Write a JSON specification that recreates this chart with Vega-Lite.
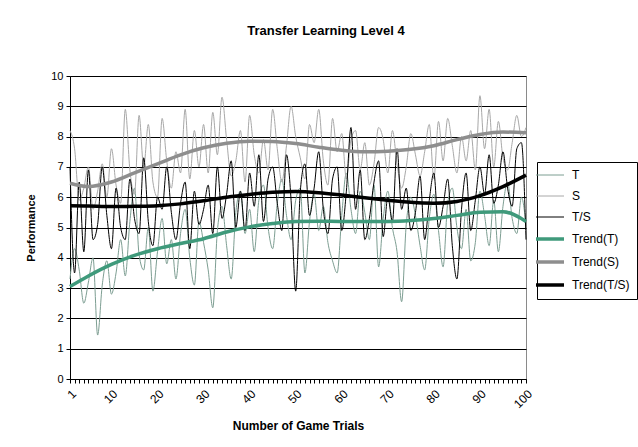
{
  "$schema": "https://vega.github.io/schema/vega-lite/v6.json",
  "autosize": {"type": "none"},
  "padding": {"left": 70, "top": 76, "right": 112, "bottom": 68},
  "width": 456,
  "height": 303,
  "background": "white",
  "title": {"text": "Transfer Learning Level 4", "font": "Liberation Sans", "fontSize": 13, "fontWeight": "bold", "color": "#000", "anchor": "middle", "dx": 28, "offset": 32},
  "config": {
    "view": {"stroke": "#8a8a8a", "strokeWidth": 1},
    "axis": {"labelFont": "Liberation Sans", "titleFont": "Liberation Sans", "labelColor": "#000", "titleColor": "#000", "domainColor": "#000", "tickColor": "#000"},
    "legend": {"labelFont": "Liberation Sans"}
  },
  "datasets": {
    "raw": [
      {"trial":1,"T":3.3,"S":8.2,"TS":7.0},{"trial":2,"T":4.3,"S":7.6,"TS":3.5},{"trial":3,"T":3.6,"S":5.9,"TS":6.5},{"trial":4,"T":2.5,"S":6.3,"TS":4.2},{"trial":5,"T":3.2,"S":7.0,"TS":6.9},
      {"trial":6,"T":4.0,"S":5.6,"TS":4.6},{"trial":7,"T":1.45,"S":6.2,"TS":5.1},{"trial":8,"T":3.1,"S":7.1,"TS":7.0},{"trial":9,"T":3.9,"S":6.0,"TS":5.4},{"trial":10,"T":2.8,"S":7.6,"TS":4.3},
      {"trial":11,"T":3.5,"S":6.4,"TS":6.3},{"trial":12,"T":4.6,"S":5.8,"TS":5.0},{"trial":13,"T":3.4,"S":8.9,"TS":4.6},{"trial":14,"T":5.2,"S":6.9,"TS":6.6},{"trial":15,"T":6.3,"S":6.1,"TS":5.3},
      {"trial":16,"T":4.1,"S":8.7,"TS":4.8},{"trial":17,"T":3.6,"S":7.0,"TS":7.3},{"trial":18,"T":5.0,"S":8.4,"TS":5.2},{"trial":19,"T":2.9,"S":6.5,"TS":4.4},{"trial":20,"T":4.2,"S":6.0,"TS":6.0},
      {"trial":21,"T":5.3,"S":8.6,"TS":5.6},{"trial":22,"T":3.8,"S":7.2,"TS":7.0},{"trial":23,"T":4.6,"S":6.3,"TS":5.5},{"trial":24,"T":3.3,"S":7.5,"TS":4.6},{"trial":25,"T":4.8,"S":6.8,"TS":5.8},
      {"trial":26,"T":5.6,"S":8.9,"TS":6.5},{"trial":27,"T":4.0,"S":6.6,"TS":4.3},{"trial":28,"T":3.1,"S":8.2,"TS":6.2},{"trial":29,"T":5.2,"S":7.0,"TS":5.1},{"trial":30,"T":4.5,"S":8.4,"TS":5.6},
      {"trial":31,"T":3.6,"S":6.8,"TS":6.4},{"trial":32,"T":2.35,"S":8.8,"TS":4.8},{"trial":33,"T":4.9,"S":7.4,"TS":7.0},{"trial":34,"T":5.7,"S":9.3,"TS":5.3},{"trial":35,"T":4.4,"S":7.9,"TS":6.1},
      {"trial":36,"T":3.3,"S":6.7,"TS":7.2},{"trial":37,"T":5.5,"S":7.2,"TS":5.0},{"trial":38,"T":6.2,"S":8.2,"TS":6.2},{"trial":39,"T":4.8,"S":6.5,"TS":4.9},{"trial":40,"T":5.6,"S":8.7,"TS":6.8},
      {"trial":41,"T":4.2,"S":7.4,"TS":5.7},{"trial":42,"T":5.9,"S":6.8,"TS":7.4},{"trial":43,"T":6.4,"S":7.9,"TS":5.2},{"trial":44,"T":5.0,"S":6.9,"TS":6.6},{"trial":45,"T":4.3,"S":8.9,"TS":7.0},
      {"trial":46,"T":5.8,"S":7.6,"TS":5.8},{"trial":47,"T":6.6,"S":6.5,"TS":4.9},{"trial":48,"T":5.4,"S":7.7,"TS":7.4},{"trial":49,"T":4.6,"S":9.0,"TS":5.9},{"trial":50,"T":5.9,"S":8.0,"TS":2.9},
      {"trial":51,"T":6.3,"S":7.3,"TS":6.2},{"trial":52,"T":3.5,"S":6.6,"TS":7.1},{"trial":53,"T":5.2,"S":8.4,"TS":5.4},{"trial":54,"T":6.1,"S":7.8,"TS":6.3},{"trial":55,"T":4.9,"S":8.9,"TS":7.5},
      {"trial":56,"T":5.7,"S":7.2,"TS":5.6},{"trial":57,"T":4.5,"S":6.4,"TS":4.8},{"trial":58,"T":3.9,"S":8.6,"TS":6.6},{"trial":59,"T":3.5,"S":7.5,"TS":7.0},{"trial":60,"T":5.4,"S":8.1,"TS":4.9},
      {"trial":61,"T":6.8,"S":6.6,"TS":6.2},{"trial":62,"T":5.6,"S":7.9,"TS":8.3},{"trial":63,"T":4.8,"S":8.2,"TS":5.6},{"trial":64,"T":6.2,"S":6.9,"TS":6.9},{"trial":65,"T":5.5,"S":7.8,"TS":4.6},
      {"trial":66,"T":4.6,"S":6.4,"TS":5.3},{"trial":67,"T":6.4,"S":7.1,"TS":6.5},{"trial":68,"T":3.7,"S":8.3,"TS":7.2},{"trial":69,"T":5.3,"S":7.9,"TS":4.7},{"trial":70,"T":6.2,"S":6.8,"TS":6.0},
      {"trial":71,"T":5.0,"S":8.2,"TS":5.2},{"trial":72,"T":4.2,"S":7.1,"TS":7.6},{"trial":73,"T":2.55,"S":6.3,"TS":5.6},{"trial":74,"T":5.1,"S":7.0,"TS":6.3},{"trial":75,"T":6.0,"S":8.1,"TS":4.9},
      {"trial":76,"T":5.4,"S":7.4,"TS":5.5},{"trial":77,"T":4.4,"S":6.7,"TS":6.7},{"trial":78,"T":3.6,"S":7.5,"TS":4.6},{"trial":79,"T":5.3,"S":8.4,"TS":5.9},{"trial":80,"T":6.1,"S":6.6,"TS":6.8},
      {"trial":81,"T":4.9,"S":8.5,"TS":5.0},{"trial":82,"T":3.7,"S":7.2,"TS":5.7},{"trial":83,"T":5.8,"S":8.6,"TS":6.6},{"trial":84,"T":6.3,"S":7.7,"TS":4.4},{"trial":85,"T":5.0,"S":6.8,"TS":3.3},
      {"trial":86,"T":4.3,"S":8.0,"TS":5.6},{"trial":87,"T":5.6,"S":7.2,"TS":6.8},{"trial":88,"T":3.9,"S":8.2,"TS":4.9},{"trial":89,"T":4.5,"S":6.9,"TS":5.9},{"trial":90,"T":6.2,"S":9.35,"TS":7.0},
      {"trial":91,"T":5.4,"S":7.6,"TS":6.1},{"trial":92,"T":4.4,"S":8.9,"TS":7.4},{"trial":93,"T":5.9,"S":7.0,"TS":5.8},{"trial":94,"T":4.2,"S":8.5,"TS":6.4},{"trial":95,"T":5.7,"S":7.3,"TS":7.5},
      {"trial":96,"T":6.5,"S":6.9,"TS":6.3},{"trial":97,"T":5.3,"S":7.8,"TS":5.7},{"trial":98,"T":4.8,"S":8.7,"TS":7.6},{"trial":99,"T":6.0,"S":8.0,"TS":7.8},{"trial":100,"T":5.1,"S":8.3,"TS":4.6}
    ],
    "trend": [
      {"trial":1,"series":"Trend(T)","value":3.05},{"trial":5,"series":"Trend(T)","value":3.4},{"trial":10,"series":"Trend(T)","value":3.78},{"trial":15,"series":"Trend(T)","value":4.08},{"trial":20,"series":"Trend(T)","value":4.3},{"trial":25,"series":"Trend(T)","value":4.47},{"trial":30,"series":"Trend(T)","value":4.63},{"trial":35,"series":"Trend(T)","value":4.85},{"trial":40,"series":"Trend(T)","value":5.02},{"trial":45,"series":"Trend(T)","value":5.13},{"trial":50,"series":"Trend(T)","value":5.2},{"trial":55,"series":"Trend(T)","value":5.21},{"trial":60,"series":"Trend(T)","value":5.2},{"trial":65,"series":"Trend(T)","value":5.2},{"trial":70,"series":"Trend(T)","value":5.2},{"trial":75,"series":"Trend(T)","value":5.23},{"trial":80,"series":"Trend(T)","value":5.3},{"trial":85,"series":"Trend(T)","value":5.4},{"trial":90,"series":"Trend(T)","value":5.5},{"trial":95,"series":"Trend(T)","value":5.52},{"trial":100,"series":"Trend(T)","value":5.2},
      {"trial":1,"series":"Trend(S)","value":6.46},{"trial":5,"series":"Trend(S)","value":6.35},{"trial":10,"series":"Trend(S)","value":6.5},{"trial":15,"series":"Trend(S)","value":6.8},{"trial":20,"series":"Trend(S)","value":7.1},{"trial":25,"series":"Trend(S)","value":7.4},{"trial":30,"series":"Trend(S)","value":7.63},{"trial":35,"series":"Trend(S)","value":7.78},{"trial":40,"series":"Trend(S)","value":7.85},{"trial":45,"series":"Trend(S)","value":7.84},{"trial":50,"series":"Trend(S)","value":7.77},{"trial":55,"series":"Trend(S)","value":7.65},{"trial":60,"series":"Trend(S)","value":7.55},{"trial":65,"series":"Trend(S)","value":7.5},{"trial":70,"series":"Trend(S)","value":7.52},{"trial":75,"series":"Trend(S)","value":7.58},{"trial":80,"series":"Trend(S)","value":7.7},{"trial":85,"series":"Trend(S)","value":7.9},{"trial":90,"series":"Trend(S)","value":8.07},{"trial":95,"series":"Trend(S)","value":8.15},{"trial":100,"series":"Trend(S)","value":8.13},
      {"trial":1,"series":"Trend(T/S)","value":5.72},{"trial":5,"series":"Trend(T/S)","value":5.71},{"trial":10,"series":"Trend(T/S)","value":5.69},{"trial":15,"series":"Trend(T/S)","value":5.7},{"trial":20,"series":"Trend(T/S)","value":5.72},{"trial":25,"series":"Trend(T/S)","value":5.78},{"trial":30,"series":"Trend(T/S)","value":5.88},{"trial":35,"series":"Trend(T/S)","value":6.0},{"trial":40,"series":"Trend(T/S)","value":6.09},{"trial":45,"series":"Trend(T/S)","value":6.16},{"trial":50,"series":"Trend(T/S)","value":6.19},{"trial":55,"series":"Trend(T/S)","value":6.15},{"trial":60,"series":"Trend(T/S)","value":6.07},{"trial":65,"series":"Trend(T/S)","value":5.98},{"trial":70,"series":"Trend(T/S)","value":5.9},{"trial":75,"series":"Trend(T/S)","value":5.83},{"trial":80,"series":"Trend(T/S)","value":5.8},{"trial":85,"series":"Trend(T/S)","value":5.86},{"trial":90,"series":"Trend(T/S)","value":6.05},{"trial":95,"series":"Trend(T/S)","value":6.35},{"trial":100,"series":"Trend(T/S)","value":6.73}
    ]
  },
  "encoding": {
    "x": {"field": "trial", "type": "quantitative", "scale": {"domain": [1, 100], "nice": false, "zero": false},
      "axis": {"title": "Number of Game Trials", "titleFontSize": 12, "titleFontWeight": "bold", "titlePadding": 11, "grid": false,
        "values": [1,2,3,4,5,6,7,8,9,10,11,12,13,14,15,16,17,18,19,20,21,22,23,24,25,26,27,28,29,30,31,32,33,34,35,36,37,38,39,40,41,42,43,44,45,46,47,48,49,50,51,52,53,54,55,56,57,58,59,60,61,62,63,64,65,66,67,68,69,70,71,72,73,74,75,76,77,78,79,80,81,82,83,84,85,86,87,88,89,90,91,92,93,94,95,96,97,98,99,100],
        "labelExpr": "datum.value == 1 || datum.value % 10 == 0 ? datum.label : ''",
        "labelAngle": -45, "labelFontSize": 12, "labelOverlap": false, "tickSize": 4, "labelPadding": 5}},
    "y": {"type": "quantitative", "scale": {"domain": [0, 10], "nice": false},
      "axis": {"title": "Performance", "titleFontSize": 11, "titleFontWeight": "bold", "titlePadding": 14, "values": [0,1,2,3,4,5,6,7,8,9,10], "grid": true, "gridColor": "#000", "gridOpacity": 1, "gridWidth": 1, "labelFontSize": 11, "tickSize": 4, "labelPadding": 3}},
    "color": {"field": "series", "type": "nominal",
      "scale": {"domain": ["T", "S", "T/S", "Trend(T)", "Trend(S)", "Trend(T/S)"], "range": ["#7d9e92", "#a8a8a8", "#000000", "#3f9a7b", "#8e8e8e", "#000000"]},
      "legend": {"title": null, "orient": "none", "legendX": 467, "legendY": 86, "strokeColor": "#000", "padding": 7, "symbolType": "stroke", "symbolSize": 784, "labelFontSize": 12, "rowPadding": 9, "labelOffset": 16, "labelColor": "#000",
        "encode": {"symbols": {"update": {"strokeWidth": {"signal": "indexof(['Trend(T)','Trend(S)','Trend(T/S)'], datum.value) >= 0 ? 3.5 : 1"}}}}}}
  },
  "layer": [
    {
      "data": {"name": "raw"},
      "transform": [{"fold": ["T", "S", "TS"], "as": ["key", "value"]}, {"lookup": "key", "from": {"data": {"values": [{"key": "T", "series": "T"}, {"key": "S", "series": "S"}, {"key": "TS", "series": "T/S"}]}, "key": "key", "fields": ["series"]}}],
      "mark": {"type": "line", "strokeWidth": 1, "interpolate": "monotone"},
      "encoding": {"y": {"field": "value", "type": "quantitative"}}
    },
    {
      "data": {"name": "trend"},
      "mark": {"type": "line", "strokeWidth": 3.5, "interpolate": "monotone"},
      "encoding": {"y": {"field": "value", "type": "quantitative"}}
    }
  ]
}
